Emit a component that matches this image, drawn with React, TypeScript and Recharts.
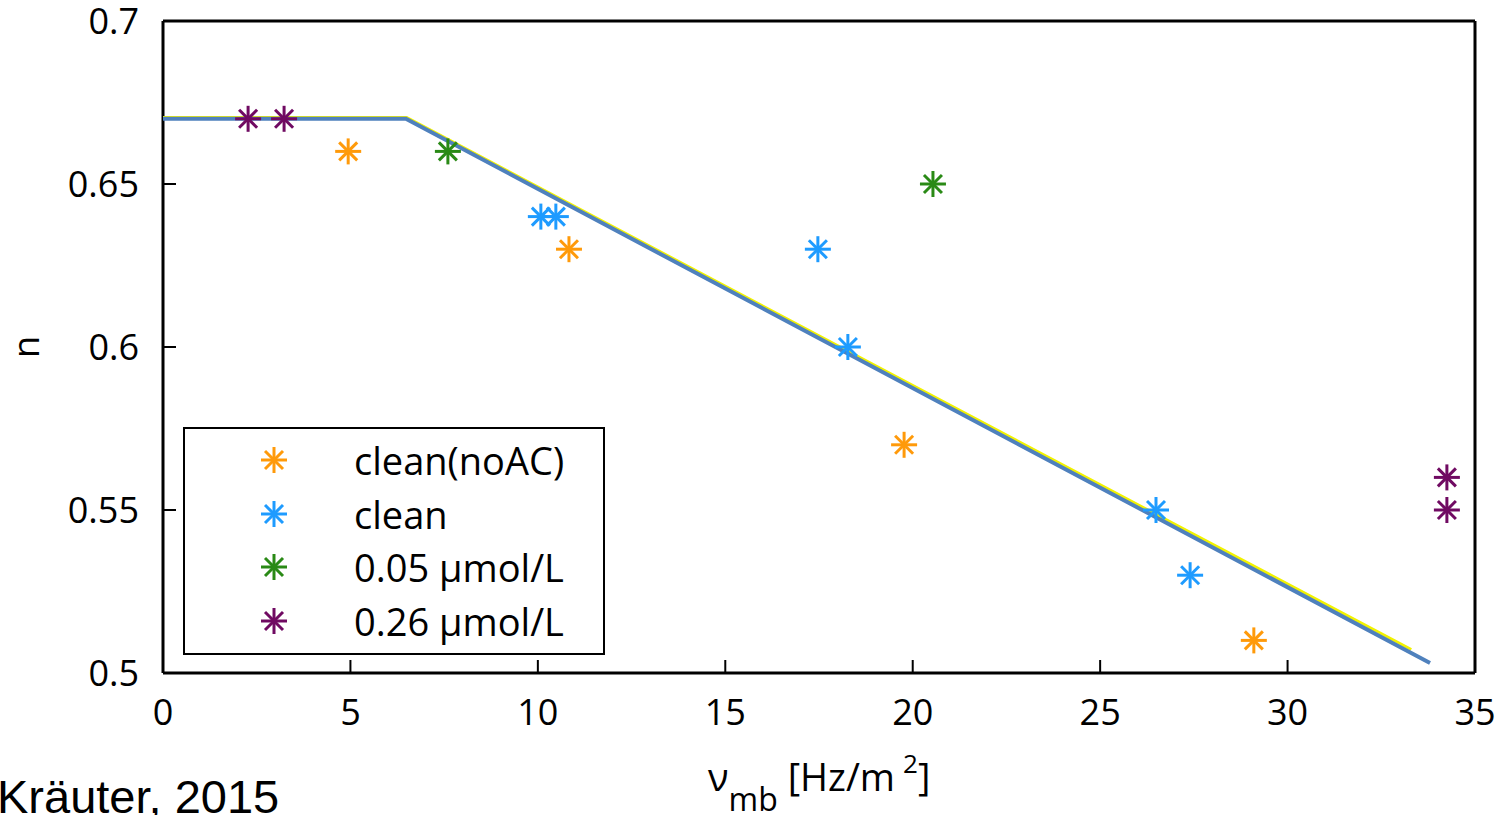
import React from 'react';
import { ComposedChart, Scatter, XAxis, YAxis, Label } from 'recharts';

const xTicks = [0, 5, 10, 15, 20, 25, 30, 35];
const yTicks = [0.5, 0.55, 0.6, 0.65, 0.7];

const seriesNames = ['clean(noAC)', 'clean', '0.05 µmol/L', '0.26 µmol/L'];
const seriesColors = ['#ff9a0a', '#1e9bff', '#2a8a16', '#700a62'];

const cleanNoAcX = [4.94, 10.83, 19.77, 29.1];
const cleanNoAcY = [0.66, 0.63, 0.57, 0.51];
const cleanX = [10.08, 10.48, 17.47, 18.27, 26.49, 27.4];
const cleanY = [0.64, 0.64, 0.63, 0.6, 0.55, 0.53];
const c005X = [7.6, 20.54];
const c005Y = [0.66, 0.65];
const c026X = [2.27, 3.23, 34.25, 34.25];
const c026Y = [0.67, 0.67, 0.56, 0.55];

const fitYellowX = [0, 6.5, 33.3];
const fitYellowY = [0.6704, 0.6704, 0.5072];
const fitBlueX = [0, 6.48, 33.8];
const fitBlueY = [0.67, 0.67, 0.5031];

const toPts = (xs: number[], ys: number[]) => xs.map((x, i) => ({ x, y: ys[i] }));

const FONT = "'Open Sans', sans-serif";

function starLines(cx: number, cy: number, r: number, d: number) {
  return [
    [cx - r, cy, cx + r, cy],
    [cx, cy - r, cx, cy + r],
    [cx - d, cy - d, cx + d, cy + d],
    [cx - d, cy + d, cx + d, cy - d],
  ];
}

function makeStar(color: string) {
  return (props: any) => {
    const { cx, cy } = props;
    if (cx == null || cy == null) return <g />;
    return (
      <g stroke={color} strokeWidth={3}>
        {starLines(cx, cy, 13, 9).map((l, i) => (
          <line key={i} x1={l[0]} y1={l[1]} x2={l[2]} y2={l[3]} />
        ))}
      </g>
    );
  };
}

const Empty = () => <g />;

const seriesData = [
  toPts(cleanNoAcX, cleanNoAcY),
  toPts(cleanX, cleanY),
  toPts(c005X, c005Y),
  toPts(c026X, c026Y),
];

const axisLine = { stroke: '#000', strokeWidth: 3 };
const tickLine = { stroke: '#000', strokeWidth: 2 };
const tickStyle = { fill: '#000', fontSize: 36, fontFamily: FONT };

export default function App() {
  return (
    <div style={{ position: 'absolute', left: 0, top: 0, width: 1502, height: 815, background: '#fff', overflow: 'hidden' }}>
      <ComposedChart width={1502} height={815} margin={{ top: 0, right: 0, bottom: 0, left: 0 }}>
        <XAxis
          xAxisId="b"
          type="number"
          dataKey="x"
          orientation="bottom"
          domain={[0, 35]}
          ticks={xTicks}
          interval={0}
          height={142}
          tickSize={-13}
          tickMargin={39}
          axisLine={axisLine}
          tickLine={tickLine}
          tick={tickStyle}
        >
          <Label
            content={(p: any) => {
              const vb = p.viewBox || { x: 163, width: 1312, y: 673 };
              const cx = vb.x + vb.width / 2;
              return (
                <text x={cx - 111} y={791} fontFamily={FONT} fontSize={38} fill="#000">
                  <tspan>ν</tspan>
                  <tspan fontSize={32} dy={20}>mb</tspan>
                  <tspan dy={-20}> [Hz/m</tspan>
                  <tspan fontSize={26} dx={8} dy={-18}>2</tspan>
                  <tspan dy={18}>]</tspan>
                </text>
              );
            }}
          />
        </XAxis>
        <XAxis
          xAxisId="t"
          type="number"
          dataKey="x"
          orientation="top"
          domain={[0, 35]}
          ticks={xTicks}
          interval={0}
          height={21}
          tickSize={-13}
          axisLine={axisLine}
          tickLine={tickLine}
          tick={false}
        />
        <YAxis
          yAxisId="l"
          type="number"
          dataKey="y"
          orientation="left"
          domain={[0.5, 0.7]}
          ticks={yTicks}
          interval={0}
          width={163}
          tickSize={-13}
          tickMargin={37}
          axisLine={axisLine}
          tickLine={tickLine}
          tick={tickStyle}
        >
          <Label
            content={(p: any) => {
              const vb = p.viewBox || { x: 0, y: 21, height: 652 };
              const cy = vb.y + vb.height / 2;
              return (
                <text
                  x={39}
                  y={cy}
                  textAnchor="middle"
                  fontFamily={FONT}
                  fontSize={36}
                  fill="#000"
                  transform={`rotate(-90, 39, ${cy})`}
                >
                  n
                </text>
              );
            }}
          />
        </YAxis>
        <YAxis
          yAxisId="r"
          type="number"
          dataKey="y"
          orientation="right"
          domain={[0.5, 0.7]}
          ticks={yTicks}
          interval={0}
          width={27}
          tickSize={-13}
          axisLine={axisLine}
          tickLine={tickLine}
          tick={false}
        />
        <Scatter
          xAxisId="b"
          yAxisId="l"
          data={toPts(fitYellowX, fitYellowY)}
          line={{ stroke: '#f2f200', strokeWidth: 3 }}
          lineType="joint"
          shape={Empty}
          isAnimationActive={false}
        />
        <Scatter
          xAxisId="b"
          yAxisId="l"
          data={toPts(fitBlueX, fitBlueY)}
          line={{ stroke: '#4f81bd', strokeWidth: 4 }}
          lineType="joint"
          shape={Empty}
          isAnimationActive={false}
        />
        {seriesData.map((d, i) => (
          <Scatter
            key={seriesNames[i]}
            name={seriesNames[i]}
            xAxisId="b"
            yAxisId="l"
            data={d}
            shape={makeStar(seriesColors[i])}
            isAnimationActive={false}
          />
        ))}
      </ComposedChart>
      <div
        style={{
          position: 'absolute',
          left: 183,
          top: 427,
          width: 418,
          height: 224,
          border: '2px solid #000',
          background: '#fff',
        }}
      >
        {seriesNames.map((n, i) => (
          <div key={n} style={{ position: 'absolute', left: 0, top: 4 + i * 53.7, height: 54, width: 418 }}>
            <svg width={40} height={40} style={{ position: 'absolute', left: 69, top: 7 }}>
              <g stroke={seriesColors[i]} strokeWidth={3}>
                {starLines(20, 20, 13, 9).map((l, k) => (
                  <line key={k} x1={l[0]} y1={l[1]} x2={l[2]} y2={l[3]} />
                ))}
              </g>
            </svg>
            <div
              style={{
                position: 'absolute',
                left: 169,
                top: 0,
                lineHeight: '54px',
                fontFamily: FONT,
                fontSize: 38,
                color: '#000',
                whiteSpace: 'nowrap',
              }}
            >
              {n}
            </div>
          </div>
        ))}
      </div>
      <div
        style={{
          position: 'absolute',
          left: -3,
          top: 770,
          fontFamily: "'Liberation Sans', Arial, sans-serif",
          fontSize: 47,
          lineHeight: '54px',
          color: '#000',
          whiteSpace: 'nowrap',
        }}
      >
        Kräuter, 2015
      </div>
    </div>
  );
}
